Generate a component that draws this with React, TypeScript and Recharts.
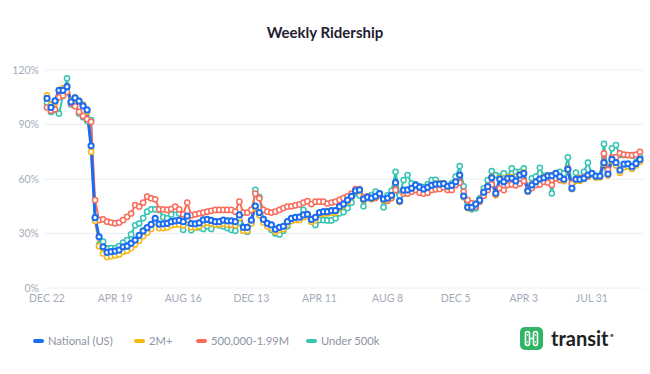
import React from "react";
import { LineChart, Line, XAxis, YAxis, CartesianGrid, Legend } from "recharts";

// weekly ridership vs. pre-pandemic baseline, % (week starting Dec 22 2019)
const national = [
  104.4, 99.4, 103, 108.8, 108.8, 110.8, 102.4, 104.7, 102.9, 100.2,
  98, 78.3, 38.7, 28.2, 22.7, 19.6, 20, 20.3, 20.9, 22.7,
  23, 24.6, 26.4, 29, 31.4, 33.2, 35, 38.4, 35.2, 35.3,
  35.6, 36.5, 37, 37.2, 36.5, 39.6, 35.5, 35.3, 35.8, 37.5,
  37.8, 37.2, 36.5, 36.5, 37.4, 37, 37, 36.5, 40.2, 33.4,
  33.4, 37.4, 45.1, 41.5, 37.8, 35.6, 34.7, 32.3, 33.4, 34,
  36.5, 38.3, 38.9, 39, 40.2, 40.6, 37.8, 38.9, 41.5, 42,
  42, 42.6, 42.6, 44.8, 46.2, 48.4, 50.5, 53.5, 54, 49,
  50, 49.5, 50.5, 52, 49, 49.5, 51, 58, 48, 53.9,
  54, 54.9, 56.7, 55.5, 54.5, 55.4, 56.5, 57.2, 57.2, 57.5,
  56, 56.5, 58.5, 62.2, 50.6, 44.4, 44.4, 46.2, 48.4, 52.7,
  55.8, 60.7, 52.1, 60, 58.5, 60.4, 60.4, 58.9, 62.2, 63.1,
  53.4, 56.7, 58.5, 60, 60.7, 61.8, 61.8, 63.1, 61.3, 59.8,
  65.3, 54.9, 59.8, 59.8, 60.4, 62.2, 63.1, 61.6, 61.6, 69,
  62.7, 70.8, 69, 64.9, 68.2, 68.4, 66.8, 68.6, 70.8,
];

const metro2m = [
  106, 101, 102, 109, 110, 111, 103, 105, 103, 101,
  97, 75, 37, 23, 19, 17, 17.5, 18, 18.5, 20,
  20.5, 22, 24, 26, 28.5, 30.5, 32.5, 36, 33, 33,
  33.5, 34.5, 35, 35, 34.5, 37.5, 33.5, 33.5, 34, 35.5,
  36, 35.5, 35, 35, 35.5, 35, 35, 34.5, 38.5, 31.5,
  31.5, 35.5, 44, 40, 36, 34, 33, 31, 32, 32.5,
  35, 37, 37.5, 37.5, 39, 39.5, 36.5, 37.5, 40.5, 41,
  41, 41.5, 41.5, 44, 45.5, 47.5, 50, 53, 53.5, 48.5,
  49.5, 49, 50, 51.5, 48.5, 49, 50.5, 57.5, 47.5, 53.5,
  54, 55, 56.5, 55.5, 54.5, 55.5, 56.5, 57.5, 57.5, 57.5,
  56, 56.5, 58.5, 62, 50, 44, 44, 46.5, 48.5, 53,
  56, 61, 51.5, 60.5, 59, 61, 61, 59.5, 62.5, 63.5,
  53, 57, 58.5, 60, 61, 62, 62, 63, 61, 59,
  65, 54.5, 59, 59, 60, 61.5, 62.5, 61, 61, 68.5,
  62, 70, 67.5, 63.5, 66.5, 67, 65.5, 67.5, 69.5,
];

const midSize = [
  99.4, 97.6, 98.4, 105, 106, 108, 101.5, 100, 96.9, 94.7,
  93, 91.5, 48.4, 37.4, 37.8, 36.5, 36, 35.6, 36, 37.4,
  39.2, 41, 45.7, 44.8, 47, 50.3, 49.4, 48.8, 43.3, 43.3,
  43, 43.5, 44.8, 43.3, 40.5, 47, 40, 40.5, 41, 41.5,
  42, 42.5, 43, 43, 43, 43, 43, 42, 47.5, 41.5,
  41.5, 43, 52, 49.4, 43, 42, 41.5, 42, 43, 44,
  44.8, 45, 45.5, 46, 47, 47.8, 46.2, 47.5, 47.5, 47.5,
  46.5, 47, 47.5, 48.5, 49.5, 50.5, 52, 54.5, 54.5, 50,
  50.5, 49, 49.5, 51, 48.5, 48, 49.5, 54, 47.5, 52,
  52, 53, 54, 52.5, 52, 52.5, 54, 54.3, 54.5, 55.4,
  54, 54, 56.7, 58, 53, 48.4, 46.6, 44.8, 47.5, 50.8,
  53.9, 57, 51.2, 54.9, 53.9, 56.7, 57, 56.5, 57.5, 58.9,
  53.9, 55, 56.7, 57, 58.5, 58, 56.7, 60.4, 59.4, 59,
  65.9, 57.6, 60, 60.5, 60.8, 61.3, 63, 61.5, 61.5, 74.1,
  65, 71.9, 72, 74.1, 73.5, 73.2, 73, 73.5, 75,
];

const under500k = [
  102, 96.9, 98, 96, 106, 115.4, 101, 103, 96, 94,
  92, 92.4, 39, 23.7, 25.5, 21.8, 22, 22, 23, 25,
  26.4, 29.5, 34.5, 35.5, 38.5, 42, 43.3, 43.3, 43, 39,
  38.4, 40.5, 43, 41, 32, 36, 31.9, 33.4, 33.4, 32.5,
  34, 32.5, 35, 34.5, 34, 33, 32, 31.5, 36, 31.5,
  31, 36, 54, 50, 38, 35, 32, 30, 29.5, 31.5,
  34, 37, 38, 38, 43, 40, 36.5, 34.7, 37.4, 37.4,
  37.2, 37.2, 38.4, 41.1, 41.8, 44, 47, 52.1, 51, 45,
  50.3, 51.2, 53, 52, 44.5, 51, 53.5, 64, 51, 59.4,
  62.2, 57.6, 57, 56, 55.5, 57, 59.4, 59.6, 57.6, 57.2,
  56, 57.6, 61.3, 67.1, 56, 45.7, 43.3, 43.9, 49.4, 54.9,
  59.4, 64.4, 62.2, 61.3, 63.1, 61.3, 65.9, 64, 64, 65.9,
  53.9, 60.4, 61.3, 66.2, 61.8, 62.2, 52.1, 63.1, 64, 63,
  71.9, 57, 63.5, 60.5, 64, 69, 62.5, 61, 61.5, 79.3,
  64, 76.9, 78.7, 73.2, 73.2, 73.2, 73.2, 72.3, 72,
];

const tickWeeks = [
  "2019-12-22", "2020-04-19", "2020-08-16", "2020-12-13", "2021-04-11",
  "2021-08-08", "2021-12-05", "2022-04-03", "2022-07-31",
];
const yTicks = [0, 30, 60, 90, 120];
const months = ["JAN", "FEB", "MAR", "APR", "MAY", "JUN", "JUL", "AUG", "SEP", "OCT", "NOV", "DEC"];

const start = Date.UTC(2019, 11, 22);
const data = national.map((v, i) => ({
  week: new Date(start + i * 7 * 86400000).toISOString().slice(0, 10),
  national: v,
  metro2m: metro2m[i],
  midSize: midSize[i],
  under500k: under500k[i],
}));

const BLUE = "#1b6cf2";
const ORANGE = "#f7b614";
const RED = "#fa6b5a";
const TEAL = "#35c4b3";
const AXIS = "#a4acbb";

const fmtWeek = (w: string) => {
  const [, m, d] = w.split("-");
  return `${months[Number(m) - 1]} ${Number(d)}`;
};

const legendOrder = ["national", "metro2m", "midSize", "under500k"];
const legendSlot = [101, 62, 110, 90];

const renderLegend = (props: any) => {
  const items = [...(props.payload || [])].sort(
    (a: any, b: any) => legendOrder.indexOf(a.dataKey) - legendOrder.indexOf(b.dataKey)
  );
  return (
    <div style={{ display: "flex", alignItems: "center", fontFamily: "Lato, sans-serif" }}>
      {items.map((it: any, i: number) => (
        <div key={it.dataKey} style={{ display: "flex", alignItems: "center", width: legendSlot[i], flex: "none" }}>
          <span
            style={{
              display: "inline-block",
              width: 11,
              height: 3.5,
              borderRadius: 2,
              background: it.color,
              marginRight: 4,
            }}
          />
          <span style={{ fontSize: 11.2, color: "#8c94a5", lineHeight: "14px", whiteSpace: "nowrap" }}>{it.value}</span>
        </div>
      ))}
    </div>
  );
};

function TransitLogo() {
  return (
    <div style={{ position: "absolute", left: 520, top: 327, display: "flex", alignItems: "center" }}>
      <svg width={23} height={23} viewBox="0 0 23 23">
        <rect x={0} y={0} width={23} height={23} rx={5} fill="#2fb565" />
        <rect x={5.5} y={4.5} width={4} height={14} rx={2} fill="none" stroke="#fff" strokeWidth={1.6} />
        <rect x={13.5} y={4.5} width={4} height={14} rx={2} fill="none" stroke="#fff" strokeWidth={1.6} />
        <rect x={9} y={10.7} width={5} height={1.6} fill="#fff" />
        <circle cx={7.5} cy={8} r={0.8} fill="#fff" />
        <circle cx={7.5} cy={15} r={0.8} fill="#fff" />
        <circle cx={15.5} cy={8} r={0.8} fill="#fff" />
        <circle cx={15.5} cy={15} r={0.8} fill="#fff" />
      </svg>
      <span
        style={{
          marginLeft: 8,
          fontFamily: "Lato, sans-serif",
          fontWeight: 700,
          fontSize: 20,
          color: "#1e1f22",
          lineHeight: "23px",
        }}
      >
        transit
      </span>
      <span style={{ fontSize: 8, color: "#555", marginLeft: 1, marginTop: -8 }}>•</span>
    </div>
  );
}

export default function App() {
  const dot = (c: string, w: number) => ({ r: 2.6, fill: "#fff", stroke: c, strokeWidth: w });
  return (
    <div
      style={{
        position: "absolute",
        left: 0,
        top: 0,
        width: 650,
        height: 374,
        background: "#fff",
        fontFamily: "Lato, sans-serif",
      }}
    >
      <LineChart width={650} height={374} data={data} margin={{ top: 70, right: 6, bottom: 56, left: 0 }}>
        <CartesianGrid vertical={false} stroke="#eceef2" />
        <XAxis
          dataKey="week"
          ticks={tickWeeks}
          interval={0}
          tickFormatter={fmtWeek}
          axisLine={false}
          tickLine={false}
          tickSize={0}
          tickMargin={7}
          padding={{ left: 3, right: 4 }}
          tick={{ fontSize: 10.5, fill: AXIS, fontFamily: "Lato, sans-serif" }}
        />
        <YAxis
          domain={[0, 120]}
          ticks={yTicks}
          tickFormatter={(v: number) => `${v}%`}
          width={44}
          axisLine={false}
          tickLine={false}
          tickSize={0}
          tickMargin={5}
          tick={{ fontSize: 10.5, fill: AXIS, fontFamily: "Lato, sans-serif" }}
        />
        <Legend
          layout="horizontal"
          verticalAlign="middle"
          align="center"
          content={renderLegend}
          wrapperStyle={{ top: 334, left: 33, width: 420, height: 14 }}
        />
        <Line type="linear" dataKey="under500k" name="Under 500k" stroke={TEAL} strokeWidth={2} dot={dot(TEAL, 1.5)} isAnimationActive={false} />
        <Line type="linear" dataKey="midSize" name="500,000-1.99M" stroke={RED} strokeWidth={2} dot={dot(RED, 1.5)} isAnimationActive={false} />
        <Line type="linear" dataKey="metro2m" name="2M+" stroke={ORANGE} strokeWidth={2} dot={dot(ORANGE, 1.5)} isAnimationActive={false} />
        <Line type="linear" dataKey="national" name="National (US)" stroke={BLUE} strokeWidth={3} dot={dot(BLUE, 2)} isAnimationActive={false} />
      </LineChart>
      <div
        style={{
          position: "absolute",
          top: 23,
          left: 0,
          width: 650,
          textAlign: "center",
          fontSize: 15,
          fontWeight: 700,
          color: "#1d2130",
        }}
      >
        Weekly Ridership
      </div>
      <TransitLogo />
    </div>
  );
}
